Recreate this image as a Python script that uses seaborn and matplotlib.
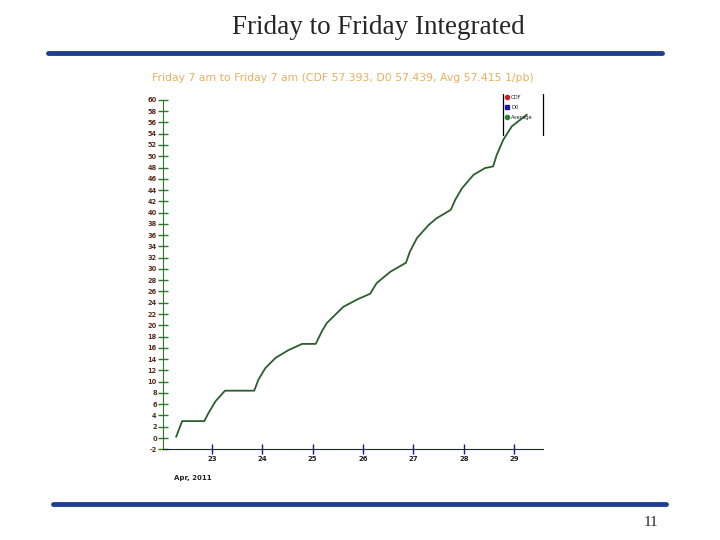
import numpy as np
import pandas as pd
import matplotlib
matplotlib.use("Agg")
import matplotlib.pyplot as plt
import seaborn as sns
from matplotlib.lines import Line2D

# integrated luminosity (1/pb); x = day of April 2011
day = [22.29, 22.41, 22.85, 22.93, 23.07, 23.26, 23.84, 23.92, 24.06, 24.26,
       24.52, 24.79, 25.06, 25.18, 25.28, 25.61, 25.91, 26.14, 26.27, 26.54,
       26.85, 26.93, 27.07, 27.30, 27.46, 27.74, 27.83, 27.96, 28.19, 28.42,
       28.58, 28.65, 28.78, 28.95, 29.25]
avg_lumi = [0.2, 3.0, 3.0, 4.4, 6.5, 8.4, 8.4, 10.3, 12.4, 14.2,
            15.6, 16.7, 16.7, 18.9, 20.4, 23.3, 24.7, 25.6, 27.5, 29.5,
            31.1, 33.1, 35.5, 37.8, 39.0, 40.5, 42.3, 44.3, 46.7, 47.9,
            48.2, 50.2, 52.9, 55.3, 57.4]
day_ticks = [23, 24, 25, 26, 27, 28, 29]
y_ticks = list(range(-2, 61, 2))
legend_names = ["CDF", "D0", "Average"]
legend_colors = ["#c0282c", "#1a1a9c", "#2e7d32"]

df = pd.DataFrame({"day": day, "lumi": avg_lumi})

sns.set_style("white")
plt.rcParams["font.family"] = ["DejaVu Sans"]

fig = plt.figure(figsize=(7.2, 5.4), dpi=100)
ax = fig.add_axes([0.2264, 0.168, 0.5278, 0.647])

sns.lineplot(data=df, x="day", y="lumi", ax=ax, color="#2b5e2f", linewidth=1.3)

ax.set_xlim(22.03, 29.57)
ax.set_ylim(-2, 60)
ax.set_xticks(day_ticks)
ax.set_xticklabels([str(d) for d in day_ticks], fontsize=5, fontweight="bold", color="#222222")
ax.set_yticks(y_ticks)
ax.set_yticklabels([str(v) for v in y_ticks], fontsize=4.8, fontweight="bold", color="#5a2e1e")
ax.set_xlabel("")
ax.set_ylabel("")
ax.tick_params(axis="y", left=True, direction="inout", length=7, width=1,
               color="#2a7a2a", pad=1)
ax.tick_params(axis="x", bottom=True, direction="inout", length=7, width=1,
               color="#1a1a7a", pad=1)
for s in ["top", "right"]:
    ax.spines[s].set_visible(False)
ax.spines["left"].set_color("#2a7a2a")
ax.spines["bottom"].set_color("#1a1a7a")
ax.grid(False)

ax.text(0.03, -0.075, "Apr, 2011", transform=ax.transAxes, fontsize=5,
        fontweight="bold", color="#222222", ha="left", va="top")

fig.text(343 / 720, 1 - 78 / 540,
         "Friday 7 am to Friday 7 am (CDF 57.393, D0 57.439, Avg 57.415 1/pb)",
         fontsize=7.8, color="#e6b060", ha="center", va="center")

# legend with side bars only
handles = [Line2D([], [], marker="o", linestyle="", color=legend_colors[0], markersize=3),
           Line2D([], [], marker="s", linestyle="", color=legend_colors[1], markersize=2.6),
           Line2D([], [], marker="o", linestyle="", color=legend_colors[2], markersize=3)]
ax.legend(handles, legend_names, loc="upper left", bbox_to_anchor=(0.895, 1.02),
          frameon=False, fontsize=3.8, handlelength=0.8, handletextpad=0.3,
          labelspacing=0.9, borderaxespad=0)
for xf in [0.895, 1.0]:
    ax.plot([xf, xf], [0.9, 1.017], transform=ax.transAxes, color="black",
            linewidth=0.9, clip_on=False)

# slide decoration
fig.text(378 / 720, 1 - 28 / 540, "Friday to Friday Integrated", fontsize=19.5,
         family="Liberation Serif", ha="center", va="center")
fig.add_artist(Line2D([48 / 720, 662 / 720], [1 - 53 / 540, 1 - 53 / 540],
                      color="#1f3f8c", linewidth=3.5))
fig.add_artist(Line2D([53 / 720, 666 / 720], [1 - 504 / 540, 1 - 504 / 540],
                      color="#1f3f8c", linewidth=3.5))
fig.text(651 / 720, 1 - 522 / 540, "11", fontsize=11, family="Liberation Serif",
         ha="center", va="center")

fig.savefig("out.png", dpi=100)
